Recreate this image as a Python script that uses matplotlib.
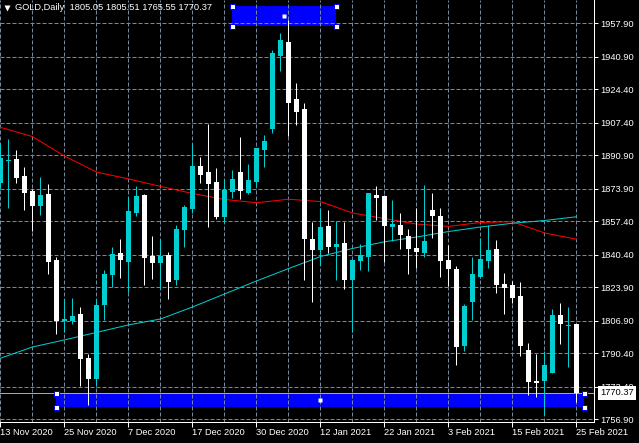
import matplotlib
matplotlib.use('Agg')
import matplotlib.pyplot as plt
from matplotlib.patches import Rectangle
from matplotlib.lines import Line2D

plt.rcParams['font.family'] = ['Liberation Sans', 'DejaVu Sans']

#### GOLD DAILY CANDLES, 13 Nov 2020 .. 25 Feb 2021 (one per trading day)
opens = [1876.7, 1888.0, 1888.9, 1880.4, 1872.8, 1865.2, 1871.3, 1837.8, 1806.9, 1806.9,
         1810.3, 1788.0, 1777.2, 1814.9, 1830.1, 1841.3, 1836.7, 1861.8, 1870.8, 1839.8,
         1836.2, 1840.3, 1827.6, 1853.0, 1863.6, 1885.5, 1882.4, 1877.4, 1859.6, 1872.3,
         1882.4, 1871.8, 1877.3, 1893.6, 1904.2, 1941.3, 1948.4, 1919.5, 1914.4, 1848.4,
         1842.8, 1855.0, 1844.4, 1846.4, 1827.6, 1837.2, 1839.3, 1870.8, 1870.2, 1854.5,
         1855.5, 1849.9, 1843.8, 1841.3, 1863.1, 1860.1, 1837.8, 1833.2, 1794.1, 1816.4,
         1829.1, 1837.2, 1843.3, 1825.6, 1825.1, 1819.5, 1792.1, 1776.3, 1776.3, 1780.4,
         1809.8, 1804.2, 1805.05]
highs = [1897.0, 1899.0, 1893.4, 1884.8, 1873.8, 1879.7, 1876.3, 1839.3, 1817.8, 1818.5,
         1814.1, 1790.0, 1817.8, 1832.7, 1844.5, 1848.4, 1869.6, 1875.3, 1871.3, 1849.9,
         1848.2, 1842.0, 1855.5, 1865.7, 1896.6, 1890.0, 1906.8, 1884.5, 1878.9, 1883.4,
         1900.2, 1886.5, 1894.6, 1901.2, 1944.3, 1953.1, 1959.6, 1927.6, 1917.6, 1857.0,
         1864.2, 1863.1, 1857.5, 1857.0, 1837.8, 1845.9, 1871.8, 1875.3, 1870.8, 1868.2,
         1861.6, 1853.5, 1864.2, 1875.8, 1871.8, 1864.2, 1845.4, 1834.7, 1815.4, 1839.3,
         1848.9, 1855.5, 1847.9, 1831.2, 1827.1, 1826.6, 1795.6, 1790.2, 1791.6, 1812.9,
         1815.9, 1813.9, 1805.51]
lows = [1873.6, 1864.0, 1876.6, 1863.1, 1852.6, 1860.8, 1830.6, 1800.2, 1801.4, 1805.3,
        1773.8, 1764.2, 1773.8, 1807.3, 1823.9, 1828.8, 1821.7, 1860.1, 1825.1, 1828.1,
        1822.9, 1817.9, 1825.1, 1844.5, 1861.6, 1876.8, 1854.7, 1858.6, 1856.4, 1869.2,
        1868.7, 1871.3, 1874.9, 1885.1, 1902.4, 1933.7, 1900.7, 1906.5, 1827.6, 1816.6,
        1835.2, 1841.3, 1827.6, 1823.0, 1801.4, 1832.7, 1832.2, 1858.1, 1836.7, 1847.4,
        1843.3, 1830.6, 1833.7, 1839.3, 1848.9, 1829.1, 1824.6, 1784.4, 1791.6, 1807.3,
        1828.6, 1833.7, 1821.0, 1810.3, 1815.9, 1789.0, 1769.2, 1768.2, 1759.1, 1780.4,
        1795.1, 1783.4, 1765.55]
closes = [1889.4, 1888.5, 1879.5, 1871.9, 1865.2, 1870.8, 1836.9, 1806.9, 1807.6, 1809.5,
          1787.7, 1777.2, 1814.9, 1830.6, 1840.8, 1837.9, 1862.6, 1870.2, 1838.9, 1836.2,
          1839.8, 1826.6, 1853.5, 1864.7, 1885.5, 1880.9, 1876.5, 1859.6, 1873.3, 1878.9,
          1872.8, 1878.4, 1894.6, 1898.2, 1943.0, 1949.4, 1917.4, 1912.9, 1848.4, 1842.8,
          1854.5, 1844.4, 1845.9, 1827.6, 1837.8, 1840.3, 1871.8, 1869.2, 1855.0, 1856.0,
          1850.4, 1843.3, 1841.8, 1847.4, 1860.1, 1837.2, 1833.2, 1793.6, 1814.4, 1830.6,
          1838.3, 1842.8, 1825.1, 1823.5, 1818.5, 1794.1, 1775.8, 1775.3, 1784.4, 1809.8,
          1805.3, 1804.7, 1770.37]

# moving averages, read every 4th bar
ma_bars = list(range(0, 73, 4))
ma_red = [1905.1, 1900.4, 1890.5, 1882.4, 1878.9, 1875.1, 1871.5, 1868.5, 1866.8, 1868.6,
          1867.4, 1861.6, 1858.8, 1856.0, 1854.8, 1856.8, 1857.2, 1851.5, 1848.3]
ma_cyan = [1787.9, 1793.6, 1797.2, 1801.0, 1804.8, 1807.8, 1813.9, 1820.5, 1827.1, 1833.4,
           1839.5, 1843.6, 1847.0, 1849.4, 1852.2, 1854.5, 1856.4, 1857.8, 1859.7]

date_labels = ['13 Nov 2020', '25 Nov 2020', '7 Dec 2020', '17 Dec 2020', '30 Dec 2020',
               '12 Jan 2021', '22 Jan 2021', '3 Feb 2021', '15 Feb 2021', '25 Feb 2021']
price_levels = [1957.90, 1940.90, 1924.40, 1907.40, 1890.90, 1873.90, 1857.40,
                1840.40, 1823.90, 1806.90, 1790.40, 1773.40, 1756.90]

# drawn rectangles (bar index, price)
rect_top = (29, 42, 1956.4, 1966.7)
rect_bottom = (7, 73, 1763.0, 1770.37)
bid = 1770.37

BULL = '#00CED1'
BEAR = 'white'
GRID = '#778899'
PX = 0.72  # one pixel in points at dpi 100
FS = 6.7

fig = plt.figure(figsize=(6.39, 4.43), dpi=100, facecolor='black')
ax = fig.add_axes([0, 21 / 443, 594 / 639, 422 / 443])
ax.set_facecolor('black')
ax.set_xlim(-0.0625, 74.19)
ax.set_ylim(1755.52, 1969.73)

# grid
for p in price_levels:
    ax.axhline(p, color=GRID, lw=PX, dashes=(4, 2), zorder=1)
for k in range(0, 73, 4):
    ax.axvline(k, color=GRID, lw=PX, dashes=(4, 2), zorder=1)

# rectangles in background
for x0, x1, y0, y1 in (rect_top, rect_bottom):
    ax.add_patch(Rectangle((x0, y0), x1 - x0, y1 - y0, fc='#0000FF', ec='none', zorder=0.5))

# moving averages
ax.plot(ma_bars, ma_red, color='red', lw=PX, zorder=2)
ax.plot(ma_bars, ma_cyan, color=BULL, lw=PX, zorder=2)

# candles
idx = list(range(len(opens)))
colors = [BULL if c >= o else BEAR for o, c in zip(opens, closes)]
ax.vlines(idx, lows, highs, colors=colors, lw=PX, zorder=3)
bottoms = [min(o, c) for o, c in zip(opens, closes)]
heights = [max(abs(c - o), 0.5) for o, c in zip(opens, closes)]
ax.bar(idx, heights, bottom=bottoms, width=0.625, color=colors, linewidth=0, zorder=3)

# bid line
ax.axhline(bid, color='#A0A8B8', lw=PX, zorder=2.5)

# rectangle handles
for x0, x1, y0, y1 in (rect_top, rect_bottom):
    ax.plot([x0, x1, x0, x1], [y0, y0, y1, y1], ls='none', marker='s', ms=3.6,
            mfc='white', mec='#0000FF', mew=PX, zorder=5, clip_on=False)
    ax.plot([(x0 + x1) / 2], [(y0 + y1) / 2], ls='none', marker='s', ms=2.2,
            mfc='white', mec='none', zorder=5)

# axes, ticks
for s in ('top', 'left'):
    ax.spines[s].set_visible(False)
for s in ('bottom', 'right'):
    ax.spines[s].set_color('white')
    ax.spines[s].set_linewidth(PX)

ax.yaxis.tick_right()
ax.set_yticks(price_levels)
ax.set_yticklabels(['%.2f' % p for p in price_levels])
ax.tick_params(axis='y', direction='out', length=2.9, width=PX, colors='white',
               labelsize=FS, pad=1.5)
ax.set_xticks(range(0, 73, 8))
ax.set_xticklabels(date_labels)
ax.tick_params(axis='x', direction='out', length=3.6, width=PX, colors='white',
               labelsize=FS, pad=0.5)
plt.setp(ax.get_xticklabels(), horizontalalignment='left')

# price tag
ax.annotate('%.2f' % bid, xy=(1.0, bid), xycoords=('axes fraction', 'data'),
            xytext=(4.3, 0), textcoords='offset points', va='center', ha='left',
            fontsize=FS, color='black', zorder=6, annotation_clip=False,
            bbox=dict(boxstyle='square,pad=0.25', fc='white', ec='none'))

# header
fig.add_artist(Line2D([6.5 / 639], [1 - 8 / 443], marker='v', ms=4.2, mfc='white',
                      mec='none', ls='none', transform=fig.transFigure))
fig.text(15 / 639, 1 - 7.5 / 443, 'GOLD,Daily  1805.05 1805.51 1765.55 1770.37',
         color='white', fontsize=FS, va='center', ha='left')

fig.savefig('out.png', dpi=100, facecolor='black')
